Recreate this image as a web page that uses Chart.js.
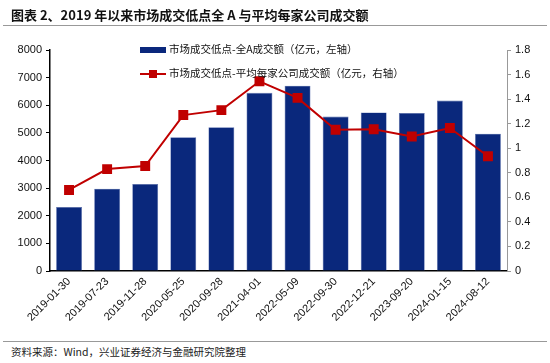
<!DOCTYPE html>
<html><head><meta charset="utf-8">
<script src="https://cdn.jsdelivr.net/npm/chart.js@4/dist/chart.umd.min.js"></script>
<style>
html,body{margin:0;padding:0;background:#fff;width:550px;height:363px;overflow:hidden;font-family:"Noto Sans CJK SC",sans-serif;}
#title{position:absolute;left:11px;top:5px;font-size:13px;font-weight:bold;color:#111;white-space:nowrap;}
#hr1{position:absolute;left:3px;top:25px;width:544px;height:1px;background:#999;}
#hr2{position:absolute;left:3px;top:341px;width:544px;height:1px;background:#999;}
#src{position:absolute;left:11px;top:344px;font-size:10.5px;color:#222;white-space:nowrap;}
#wrap{position:absolute;left:0;top:0;width:550px;height:340px;}
.leg{position:absolute;font-size:10.5px;color:#111;white-space:nowrap;}
</style></head><body>
<div id="wrap"><canvas id="c"></canvas></div>
<div id="title">图表 2、2019 年以来市场成交低点全 A 与平均每家公司成交额</div>
<div id="hr1"></div>
<div id="hr2"></div>
<div id="src">资料来源：Wind，兴业证券经济与金融研究院整理</div>
<div class="leg" style="left:140px;top:41px;"><span style="display:inline-block;width:26px;height:6px;background:#0A287C;vertical-align:middle;margin-right:3px;"></span>市场成交低点-全A成交额（亿元，左轴）</div>
<div class="leg" style="left:140px;top:65px;"><span style="display:inline-block;position:relative;width:26px;height:10px;vertical-align:middle;margin-right:3px;"><span style="position:absolute;left:0;top:4px;width:26px;height:2px;background:#C00000;"></span><span style="position:absolute;left:9px;top:1px;width:8px;height:8px;background:#C00000;"></span></span>市场成交低点-平均每家公司成交额（亿元，右轴）</div>
<script>
const categories = ["2019-01-30","2019-07-23","2019-11-28","2020-05-25","2020-09-28","2021-04-01","2022-05-09","2022-09-30","2022-12-21","2023-09-20","2024-01-15","2024-08-12"];
const totalTurnover = [2320, 2980, 3150, 4840, 5200, 6450, 6710, 5590, 5740, 5720, 6170, 4970];
const avgPerCompany = [0.66, 0.83, 0.855, 1.27, 1.31, 1.545, 1.41, 1.15, 1.155, 1.095, 1.165, 0.935];
const leftTicks = [0,1000,2000,3000,4000,5000,6000,7000,8000];
const rightTicks = [0,0.2,0.4,0.6,0.8,1,1.2,1.4,1.6,1.8];

const tickFont = {family:"'Liberation Sans', Arial, sans-serif", size: 11};
new Chart(document.getElementById('c'), {
  data: {
    labels: categories,
    datasets: [
      {type:'line', label:'市场成交低点-平均每家公司成交额（亿元，右轴）', data: avgPerCompany, yAxisID:'y1',
       borderColor:'#C00000', backgroundColor:'#C00000', borderWidth:2, pointStyle:'rect', pointRadius:5.6, pointHoverRadius:5.6, tension:0, order:0},
      {type:'bar', label:'市场成交低点-全A成交额（亿元，左轴）', data: totalTurnover, yAxisID:'y',
       backgroundColor:'#0A287C', borderColor:'#5a6fae', borderWidth:0.6, barPercentage:0.68, categoryPercentage:1, order:1}
    ]
  },
  options: {
    responsive:true, maintainAspectRatio:false, animation:false,
    layout:{padding:{top:50,left:0,right:0,bottom:0}},
    plugins:{legend:{display:false}, tooltip:{enabled:false}},
    scales:{
      x:{
        grid:{display:false, drawTicks:false},
        border:{display:true,color:'#000',width:1.5},
        ticks:{color:'#111', font:tickFont, maxRotation:45, minRotation:45, padding:4, autoSkip:false},
        afterFit:(s)=>{s.height=69;}
      },
      y:{
        position:'left', min:0, max:8000,
        afterBuildTicks:(s)=>{s.ticks=leftTicks.map(v=>({value:v}));},
        grid:{drawOnChartArea:false, drawTicks:true, tickLength:4, color:'#000'},
        border:{display:true,color:'#000',width:1.5},
        ticks:{color:'#111', font:tickFont, padding:4, callback:(v)=>String(v)},
        afterFit:(s)=>{s.width=50;}
      },
      y1:{
        position:'right', min:0, max:1.8,
        afterBuildTicks:(s)=>{s.ticks=rightTicks.map(v=>({value:v}));},
        grid:{drawOnChartArea:false, drawTicks:true, tickLength:4, color:'#999'},
        border:{display:true,color:'#999',width:1},
        ticks:{color:'#111', font:tickFont, padding:4, callback:(v)=>String(Math.round(v*10)/10)},
        afterFit:(s)=>{s.width=43;}
      }
    }
  }
});
</script>
</body></html>
